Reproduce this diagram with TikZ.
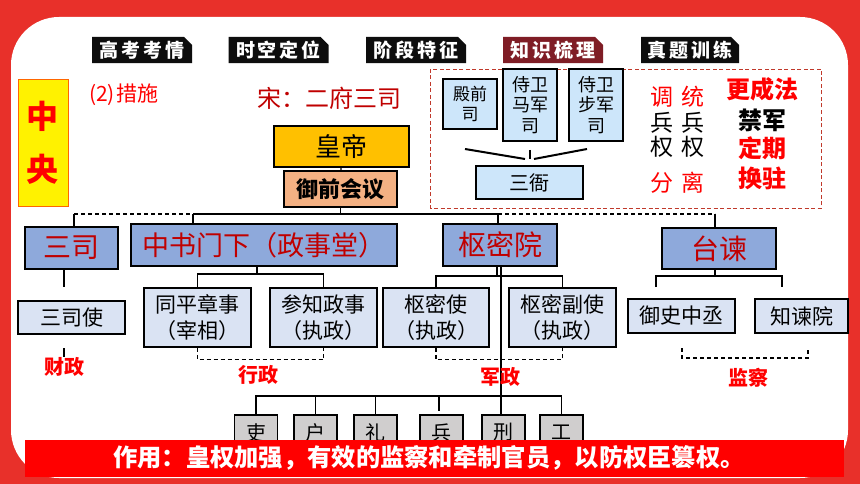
\documentclass[tikz,border=0pt]{standalone}
\usepackage{fontspec}
\setmainfont{Noto Sans CJK SC}
\usetikzlibrary{shapes.misc}
\definecolor{frame}{HTML}{E8302A}
\definecolor{darkred}{HTML}{C00000}
\definecolor{boxblue}{HTML}{8EA9DB}
\definecolor{lightbox}{HTML}{DAE3F3}
\definecolor{skyb}{HTML}{CDE6FA}
\definecolor{gold}{HTML}{FFC000}
\definecolor{peach}{HTML}{F4B183}
\definecolor{grayb}{HTML}{D0CECE}
\definecolor{tabred}{HTML}{7F1D25}
\definecolor{tabblack}{HTML}{0D0D0D}
\definecolor{dashred}{HTML}{C0392B}
\newcommand\fsz[2]{\fontsize{#1}{#2}\selectfont}
\newcommand\tsp{\hspace{3pt}}
\begin{document}
\begin{tikzpicture}[x=1pt,y=-1pt,
  tabbox/.style={chamfered rectangle, chamfered rectangle corners=north east,
    chamfered rectangle xsep=4pt, chamfered rectangle ysep=4pt,
    fill=tabblack, text=white, font=\bfseries\fsz{19}{22},
    minimum width=100pt, minimum height=26pt, inner sep=0pt},
  mainbox/.style={draw=black, line width=1.8pt, fill=boxblue, text=darkred,
    inner sep=0pt, align=center},
  subbox/.style={draw=black, line width=1.6pt, fill=lightbox, text=black,
    inner sep=0pt, align=center, font=\fsz{21}{26}},
  skybox/.style={draw=black, line width=1.5pt, fill=skyb, text=black,
    inner sep=0pt, align=center},
  bubox/.style={draw=black, line width=1.6pt, fill=grayb, text=black,
    inner sep=0pt, align=center, font=\fsz{20}{24},
    minimum width=43pt, minimum height=35pt},
  conn/.style={draw=black, line width=1.1pt},
  dashline/.style={draw=black, line width=1.1pt, dash pattern=on 4pt off 3pt},
  lbl/.style={text=red, font=\bfseries\fsz{20}{24}, inner sep=0pt},
  col/.style={font=\fsz{23}{26}, inner sep=0pt}
]
\useasboundingbox (0,0) rectangle (860,484);
\fill[frame] (0,0) rectangle (860,484);
\fill[white, rounded corners=48pt] (11,17) rectangle (848,478);

% header tabs
\node[tabbox] (t1) at (142,50) {高\tsp 考\tsp 考\tsp 情};
\node[tabbox] (t2) at (278.5,50) {时\tsp 空\tsp 定\tsp 位};
\node[tabbox] (t3) at (416,50) {阶\tsp 段\tsp 特\tsp 征};
\node[tabbox, fill=tabred] (t4) at (553,50) {知\tsp 识\tsp 梳\tsp 理};
\node[tabbox, minimum width=98pt] (t5) at (690,50) {真\tsp 题\tsp 训\tsp 练};

% left titles
\node[draw=orange!80!red, line width=0.8pt, fill=yellow, minimum width=50pt,
  minimum height=127pt, align=center, text=red, inner sep=0pt,
  font=\bfseries\fsz{32}{53}] (zy) at (43,142.5) {中\\央};
\node[text=red, font=\fsz{21}{24}, inner sep=0pt] (cuoshi) at (124,95) {(2)\hspace{2pt}措施};
\node[text=darkred, font=\fsz{24}{28}, inner sep=0pt] (song) at (329,98) {宋：二府三司};

% emperor
\node[draw=black, line width=1.8pt, fill=gold, minimum width=135pt,
  minimum height=41pt, inner sep=0pt, font=\fsz{26}{30}] (huangdi) at (341.5,146.5) {皇帝};
\node[draw=black, line width=1.8pt, fill=peach, minimum width=113pt,
  minimum height=36pt, inner sep=0pt, font=\bfseries\fsz{22}{26}] (yuqian) at (340.5,189) {御前会议};
\draw[conn] (huangdi) -- (yuqian);

% three ya (red dashed box)
\draw[dashred, line width=0.9pt, dash pattern=on 4pt off 2.5pt] (430,69) rectangle (821,208);
\node[skybox, minimum width=54pt, minimum height=50pt, font=\fsz{17}{20}] (dianqian) at (470,104) {殿前\\司};
\node[skybox, minimum width=54pt, minimum height=72pt, font=\fsz{18}{20.5}] (majun) at (530,105) {侍卫\\马军\\司};
\node[skybox, minimum width=54pt, minimum height=72pt, font=\fsz{18}{20.5}] (bujun) at (596,105) {侍卫\\步军\\司};
\node[skybox, minimum width=107pt, minimum height=33pt, font=\fsz{20}{24}] (sanya) at (529.5,182.5) {三衙};
\coordinate (ca1) at (465,149);
\coordinate (ca2) at (525,159);
\coordinate (cb1) at (530,150);
\coordinate (cb2) at (530,159);
\coordinate (cc1) at (587,149);
\coordinate (cc2) at (534,159);
\draw[black, line width=2pt] (ca1) -- (ca2);
\draw[black, line width=2pt] (cb1) -- (cb2);
\draw[black, line width=2pt] (cc1) -- (cc2);

\node[col, text=red] (d1) at (662,97) {调};
\node[col, text=red] (d2) at (693,97) {统};
\node[col] (d3) at (662,123) {兵};
\node[col] (d4) at (693,123) {兵};
\node[col] (d5) at (662,147) {权};
\node[col] (d6) at (693,147) {权};
\node[col, text=red] (d7) at (662,183) {分};
\node[col, text=red] (d8) at (693,183) {离};
\node[text=red, font=\bfseries\fsz{24}{28}, inner sep=0pt] (e1) at (762,89) {更成法};
\node[text=black, font=\bfseries\fsz{24}{28}, inner sep=0pt] (e2) at (762,120) {禁军};
\node[text=red, font=\bfseries\fsz{24}{28}, inner sep=0pt] (e3) at (762,148) {定期};
\node[text=red, font=\bfseries\fsz{24}{28}, inner sep=0pt] (e4) at (762,178) {换驻};

% main level
\node[mainbox, minimum width=93pt, minimum height=42pt, font=\fsz{28}{32}] (sansi) at (71.5,248) {三司};
\node[mainbox, minimum width=266pt, minimum height=42pt, font=\fsz{27}{32}] (zhongshu) at (264,245) {中书门下（政事堂）};
\node[mainbox, minimum width=114pt, minimum height=42pt, font=\fsz{28}{32}] (shumi) at (500,245) {枢密院};
\node[mainbox, minimum width=114pt, minimum height=41pt, font=\fsz{28}{32}] (taijian) at (719,248.5) {台谏};

\coordinate (hsan) at (74,214);
\coordinate (hzs) at (193,214);
\coordinate (hsm) at (498,214);
\coordinate (htj) at (715,214);
\draw[conn] (yuqian.south) -- (yuqian.south |- hzs);
\draw[conn] (hzs) -- (hsm);
\draw[dashline] (hsan) -- (hzs);
\draw[dashline] (hsm) -- (htj);
\draw[conn] (hsan) -- (hsan |- sansi.north);
\draw[conn] (hzs) -- (hzs |- zhongshu.north);
\draw[conn] (hsm) -- (hsm |- shumi.north);
\draw[conn] (htj) -- (htj |- taijian.north);

% sub level
\node[subbox, minimum width=107pt, minimum height=33pt] (sansishi) at (71.5,317.5) {三司使};
\node[subbox, minimum width=107pt, minimum height=59pt] (tongping) at (197.5,317.5) {同平章事\\（宰相）};
\node[subbox, minimum width=107pt, minimum height=59pt] (canzhi) at (323.5,317.5) {参知政事\\（执政）};
\node[subbox, minimum width=106pt, minimum height=59pt] (shumishi) at (436,317.5) {枢密使\\（执政）};
\node[subbox, minimum width=107pt, minimum height=59pt] (shumifu) at (562.5,317.5) {枢密副使\\（执政）};
\node[subbox, minimum width=107pt, minimum height=34pt] (yushi) at (681.5,316) {御史中丞};
\node[subbox, minimum width=93pt, minimum height=34pt] (zhijian) at (801.5,316) {知谏院};

% sansi
\coordinate (s1) at (64,287);
\draw[conn] (sansi.south -| s1) -- (s1);
\coordinate (s2) at (64,348);
\coordinate (s3) at (64,357);
\draw[conn] (s2) -- (s3);
\node[lbl] (caizheng) at (64,367) {财政};

% zhongshu
\coordinate (zsb) at (257,274);
\draw[conn] (zhongshu.south -| zsb) -- (zsb);
\draw[conn] (tongping.north) |- (zsb) -| (canzhi.north);
\draw[dashline] (tongping.south) -- ++(0,12) -| (canzhi.south);
\node[lbl] (xingzheng) at (258,375) {行政};

% shumi
\coordinate (smb) at (497,276);
\draw[conn] (shumi.south -| smb) -- (smb);
\draw[conn] (shumishi.north) |- (smb) -| (shumifu.north);
\draw[dashline] (shumishi.south) -- ++(0,12) -| (shumifu.south);

% taijian
\coordinate (tjb) at (715,276);
\coordinate (tjl) at (656,287);
\coordinate (tjr) at (782,287);
\draw[conn] (taijian.south -| tjb) -- (tjb);
\draw[conn] (tjl) |- (tjb) -| (tjr);
\coordinate (bl) at (682,348);
\coordinate (br) at (808,348);
\draw[dashline] (bl) -- ++(0,10) -| (br);
\node[lbl] (jiancha) at (748,378) {监察};

% six ministries
\node[bubox] (li) at (256,432.5) {吏};
\node[bubox] (hu) at (315.5,432.5) {户};
\node[bubox] (lii) at (375.5,432.5) {礼};
\node[bubox] (bing) at (441.5,432.5) {兵};
\node[bubox] (xing) at (503.5,432.5) {刑};
\node[bubox] (gong) at (561.5,432.5) {工};
\coordinate (lb) at (0,396);
\draw[conn] (li.north) -- (li.north |- lb) -- (gong.north |- lb) -- (gong.north);
\draw[conn] (hu.north |- lb) -- (hu.north);
\draw[conn] (lii.north |- lb) -- (lii.north);
\coordinate (bs) at (439,411);
\draw[conn] (bs |- lb) -- (bs);
\coordinate (x501) at (501,0);
\draw[conn] (shumi.south -| x501) -- (x501 |- xing.north);
\node[lbl] (junzheng) at (500,377) {军政};

% bottom bar
\fill[red] (25,440) rectangle (844,477);
\node[text=white, font=\bfseries\fsz{24.3}{27}, inner sep=0pt] (zuoyong) at (429,458) {作用：皇权加强，有效的监察和牵制官员，以防权臣篡权。};
\end{tikzpicture}
\end{document}
